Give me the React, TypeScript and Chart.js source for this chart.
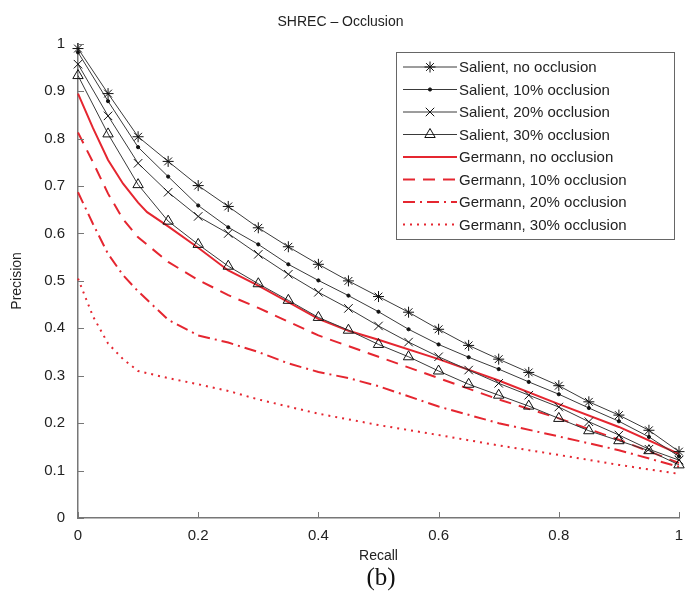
import React, { useEffect, useRef } from "react";
import { Chart, registerables } from "chart.js";
import { drawPoint } from "chart.js/helpers";

Chart.register(...registerables);

const salientRecall = [0, 0.05, 0.1, 0.15, 0.2, 0.25, 0.3, 0.35, 0.4, 0.45, 0.5, 0.55, 0.6, 0.65, 0.7, 0.75, 0.8, 0.85, 0.9, 0.95, 1];
const salientNoOcc = [0.99, 0.895, 0.804, 0.752, 0.701, 0.657, 0.612, 0.572, 0.535, 0.5, 0.467, 0.434, 0.398, 0.364, 0.335, 0.307, 0.279, 0.245, 0.217, 0.185, 0.14];
const salient10 = [0.982, 0.879, 0.782, 0.72, 0.659, 0.613, 0.577, 0.535, 0.501, 0.469, 0.435, 0.398, 0.366, 0.339, 0.314, 0.287, 0.261, 0.232, 0.204, 0.171, 0.13];
const salient20 = [0.957, 0.848, 0.748, 0.687, 0.636, 0.6, 0.556, 0.514, 0.476, 0.442, 0.405, 0.371, 0.34, 0.312, 0.284, 0.259, 0.234, 0.203, 0.175, 0.145, 0.122];
const salient30 = [0.933, 0.81, 0.703, 0.626, 0.577, 0.531, 0.494, 0.459, 0.423, 0.396, 0.366, 0.34, 0.31, 0.282, 0.259, 0.236, 0.21, 0.184, 0.163, 0.142, 0.112];

const germannNoOccRecall = [0, 0.025, 0.05, 0.075, 0.1, 0.115, 0.15, 0.2, 0.25, 0.3, 0.35, 0.4, 0.45, 0.5, 0.6, 0.7, 0.8, 0.9, 1];
const germannNoOcc = [0.895, 0.822, 0.755, 0.705, 0.665, 0.645, 0.615, 0.57, 0.522, 0.49, 0.455, 0.42, 0.395, 0.376, 0.335, 0.29, 0.24, 0.192, 0.135];

const germann10Recall = [0, 0.025, 0.05, 0.075, 0.1, 0.15, 0.2, 0.25, 0.3, 0.4, 0.5, 0.6, 0.7, 0.8, 0.9, 1];
const germann10 = [0.813, 0.75, 0.684, 0.63, 0.592, 0.54, 0.502, 0.47, 0.443, 0.385, 0.34, 0.295, 0.25, 0.21, 0.165, 0.116];

const germann20Recall = [0, 0.025, 0.05, 0.075, 0.1, 0.15, 0.2, 0.25, 0.3, 0.35, 0.4, 0.45, 0.5, 0.6, 0.7, 0.8, 0.9, 1];
const germann20 = [0.687, 0.62, 0.557, 0.512, 0.478, 0.418, 0.385, 0.37, 0.35, 0.326, 0.308, 0.295, 0.278, 0.235, 0.2, 0.172, 0.143, 0.108];

const germann30Recall = [0, 0.025, 0.05, 0.075, 0.1, 0.15, 0.2, 0.25, 0.3, 0.4, 0.5, 0.6, 0.7, 0.8, 0.9, 1];
const germann30 = [0.505, 0.425, 0.368, 0.335, 0.31, 0.295, 0.282, 0.268, 0.25, 0.22, 0.196, 0.175, 0.153, 0.133, 0.112, 0.093];

const seriesLabels = [
  "Salient, no occlusion",
  "Salient, 10% occlusion",
  "Salient, 20% occlusion",
  "Salient, 30% occlusion",
  "Germann, no occlusion",
  "Germann, 10% occlusion",
  "Germann, 20% occlusion",
  "Germann, 30% occlusion",
];

const toPoints = (xs: number[], ys: number[]) => xs.map((x, i) => ({ x, y: ys[i] }));
const fmtTick = (v: any) => String(Number(Number(v).toFixed(2)));

const FONT = "'Liberation Sans', Arial, Helvetica, sans-serif";
const GRAY = "#3a3a3a";
const RED = "#e52630";

const legendPlugin = {
  id: "boxLegend",
  afterDraw(chart: any) {
    const ctx = chart.ctx;
    const left = 396, top = 52, right = 674, bottom = 239;
    ctx.save();
    ctx.fillStyle = "#fff";
    ctx.fillRect(left, top, right - left, bottom - top);
    ctx.strokeStyle = "#666";
    ctx.lineWidth = 1;
    ctx.strokeRect(left + 0.5, top + 0.5, right - left, bottom - top);
    const rowH = 22.5;
    const y0 = 67;
    const lx0 = 403, lx1 = 457;
    chart.data.datasets.forEach((ds: any, i: number) => {
      const y = y0 + i * rowH;
      ctx.save();
      ctx.strokeStyle = ds.borderColor;
      ctx.lineWidth = ds.borderWidth;
      ctx.setLineDash(ds.borderDash || []);
      ctx.beginPath();
      ctx.moveTo(lx0, y);
      ctx.lineTo(lx1, y);
      ctx.stroke();
      ctx.setLineDash([]);
      if (ds.pointRadius > 0) {
        ctx.strokeStyle = ds.pointBorderColor;
        ctx.fillStyle = ds.pointBackgroundColor;
        ctx.lineWidth = ds.pointBorderWidth;
        drawPoint(ctx, { pointStyle: ds.pointStyle, rotation: 0, radius: ds.pointRadius, borderWidth: ds.pointBorderWidth }, (lx0 + lx1) / 2, y);
      }
      ctx.restore();
      ctx.fillStyle = "#222";
      ctx.font = `15px ${FONT}`;
      ctx.textBaseline = "middle";
      ctx.textAlign = "left";
      ctx.fillText(ds.label, 459, y + 1);
    });
    ctx.restore();
  },
};

const innerTicksPlugin = {
  id: "innerTicks",
  afterDatasetsDraw(chart: any) {
    const ctx = chart.ctx;
    const { x, y } = chart.scales;
    const area = chart.chartArea;
    ctx.save();
    ctx.strokeStyle = "#777";
    ctx.lineWidth = 1;
    y.ticks.forEach((t: any) => {
      const py = Math.round(y.getPixelForValue(t.value)) + 0.5;
      ctx.beginPath();
      ctx.moveTo(area.left, py);
      ctx.lineTo(area.left + 6, py);
      ctx.stroke();
    });
    x.ticks.forEach((t: any) => {
      const px = Math.round(x.getPixelForValue(t.value)) + 0.5;
      ctx.beginPath();
      ctx.moveTo(px, area.bottom);
      ctx.lineTo(px, area.bottom - 6);
      ctx.stroke();
    });
    ctx.restore();
  },
};

export default function App() {
  const ref = useRef<HTMLCanvasElement | null>(null);

  useEffect(() => {
    if (!ref.current) return;
    const salientBase = {
      borderColor: GRAY,
      borderWidth: 1,
      pointBorderColor: "#111",
      pointBorderWidth: 1,
      showLine: true,
      clip: false as any,
    };
    const germannBase = {
      borderColor: RED,
      borderWidth: 2,
      pointRadius: 0,
      pointBorderWidth: 0,
      showLine: true,
      clip: false as any,
      tension: 0,
    };
    const chart = new Chart(ref.current, {
      type: "scatter",
      data: {
        datasets: [
          { ...salientBase, label: seriesLabels[0], data: toPoints(salientRecall, salientNoOcc), pointStyle: "star", pointRadius: 5.5, pointBackgroundColor: "#111" },
          { ...salientBase, label: seriesLabels[1], data: toPoints(salientRecall, salient10), pointStyle: "circle", pointRadius: 1.6, pointBackgroundColor: "#111" },
          { ...salientBase, label: seriesLabels[2], data: toPoints(salientRecall, salient20), pointStyle: "crossRot", pointRadius: 6, pointBackgroundColor: "#111" },
          { ...salientBase, label: seriesLabels[3], data: toPoints(salientRecall, salient30), pointStyle: "triangle", pointRadius: 6, pointBackgroundColor: "rgba(255,255,255,0)" },
          { ...germannBase, label: seriesLabels[4], data: toPoints(germannNoOccRecall, germannNoOcc), borderDash: [] },
          { ...germannBase, label: seriesLabels[5], data: toPoints(germann10Recall, germann10), borderDash: [12, 8] },
          { ...germannBase, label: seriesLabels[6], data: toPoints(germann20Recall, germann20), borderDash: [12, 5, 2, 5] },
          { ...germannBase, label: seriesLabels[7], data: toPoints(germann30Recall, germann30), borderDash: [2, 5] },
        ] as any,
      },
      options: {
        responsive: false,
        animation: false,
        layout: { padding: { left: 0, right: 5, top: 0, bottom: 0 } },
        plugins: {
          legend: { display: false },
          tooltip: { enabled: false },
          title: {
            display: true,
            text: "SHREC \u2013 Occlusion",
            color: "#222",
            font: { family: FONT, size: 14, weight: "normal" },
            padding: { top: 14, bottom: 13 },
          },
        },
        scales: {
          x: {
            type: "linear",
            min: 0,
            max: 1,
            grid: { display: false, drawTicks: false },
            border: { display: true, color: "#777", width: 1.5 },
            ticks: { stepSize: 0.2, padding: 9, color: "#222", font: { family: FONT, size: 15 }, callback: fmtTick },
            title: { display: true, text: "Recall", color: "#222", font: { family: FONT, size: 14 }, padding: { top: 0, bottom: 43 } },
            afterFit: (scale: any) => {
              scale.height = 90;
              scale.paddingRight = 0;
              scale.paddingLeft = 0;
            },
          },
          y: {
            type: "linear",
            min: 0,
            max: 1,
            grid: { display: false, drawTicks: false },
            border: { display: true, color: "#777", width: 1.5 },
            ticks: { stepSize: 0.1, padding: 13, color: "#222", font: { family: FONT, size: 15 }, callback: fmtTick },
            title: { display: true, text: "Precision", color: "#222", font: { family: FONT, size: 14 }, padding: { top: 9, bottom: 0 } },
            afterFit: (scale: any) => {
              scale.width = 78;
            },
          },
        },
      },
      plugins: [innerTicksPlugin, legendPlugin],
    });
    return () => chart.destroy();
  }, []);

  return (
    <div style={{ position: "absolute", left: 0, top: 0, width: 686, height: 608, background: "#fff" }}>
      <canvas ref={ref} width={686} height={608} style={{ display: "block" }} />
      <div
        style={{
          position: "absolute",
          left: 0,
          width: 762,
          top: 563,
          textAlign: "center",
          fontFamily: "'Liberation Serif', 'Times New Roman', serif",
          fontSize: 25,
          color: "#111",
        }}
      >
        (b)
      </div>
    </div>
  );
}
